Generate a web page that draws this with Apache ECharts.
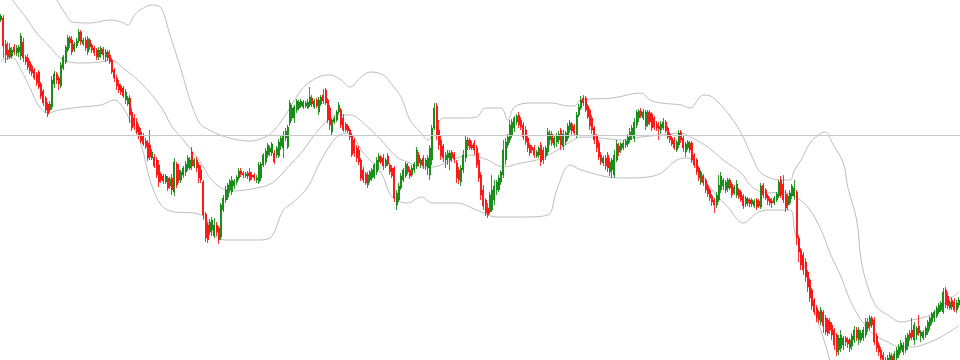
<!DOCTYPE html>
<html>
<head>
<meta charset="utf-8">
<script src="https://cdn.jsdelivr.net/npm/echarts@6/dist/echarts.min.js"></script>
<style>
html,body{margin:0;padding:0;background:#fff;}
#chart{width:960px;height:360px;}
</style>
</head>
<body>
<div id="chart"></div>
<script>
// Candles: [open, close, low, high]
const ohlc = [
[980,984,978,986],[982,954,942,985],[956,945,937,960],[950,943,940,958],[943,952,941,957],
[944,950,942,953],[953,948,945,956],[947,952,944,955],[948,953,943,955],[944,964,940,967],
[958,942,938,962],[943,938,935,945],[942,933,930,946],[938,929,926,940],[934,927,924,936],
[930,922,920,932],[926,917,914,928],[928,913,911,930],[916,904,901,918],[909,897,894,911],
[902,890,887,904],[896,886,883,898],[890,896,888,899],[893,920,890,924],[916,926,912,929],
[926,920,916,928],[922,916,910,924],[914,935,912,938],[932,943,930,945],[938,953,936,955],
[950,962,948,965],[962,957,952,964],[960,948,945,964],[950,956,948,958],[954,959,952,962],
[959,968,957,971],[968,958,955,970],[956,960,954,962],[960,952,949,963],[948,961,945,964],
[960,953,950,962],[955,950,947,957],[952,947,944,954],[950,943,940,952],[943,950,940,953],
[946,952,942,954],[951,945,940,953],[943,948,938,951],[948,942,939,950],[945,938,936,950],
[940,928,926,942],[930,922,918,932],[922,914,910,925],[916,910,907,920],[914,908,905,916],
[912,904,902,914],[900,908,896,911],[896,902,894,904],[902,885,877,905],[888,872,869,892],
[882,874,870,886],[878,868,866,882],[873,864,861,876],[868,859,857,872],[864,856,854,867],
[859,853,851,862],[857,842,839,860],[855,843,840,870],[842,848,840,851],[843,834,832,846],
[840,825,822,843],[835,818,813,840],[826,820,817,828],[824,819,816,826],[818,824,816,826],
[822,812,809,824],[814,821,811,823],[822,810,805,826],[808,838,804,842],[836,815,812,838],
[830,820,817,836],[820,828,817,830],[825,832,822,834],[828,836,824,839],[832,842,829,845],
[832,840,830,843],[848,834,830,853],[834,840,832,842],[840,832,828,843],[835,822,817,838],
[830,820,817,835],[818,785,780,820],[786,762,758,788],[775,760,757,778],[768,778,765,781],
[770,780,764,783],[764,775,762,782],[775,768,764,778],[772,760,756,774],[763,795,760,797],
[790,802,788,805],[800,810,797,814],[803,815,800,817],[810,819,807,821],[808,820,805,824],
[814,819,811,821],[818,823,815,825],[822,829,820,832],[829,826,823,832],[827,825,822,829],
[824,826,822,828],[827,824,821,829],[828,820,818,832],[825,823,820,828],[825,822,819,827],
[820,822,817,825],[818,835,816,838],[822,836,819,838],[835,845,833,847],[838,849,835,852],
[845,855,842,857],[848,852,844,854],[847,856,844,858],[847,838,836,850],[845,852,842,854],
[844,858,842,861],[854,862,850,864],[852,865,842,869],[862,869,859,872],[853,873,851,875],
[877,897,874,900],[882,892,879,895],[882,893,877,895],[890,899,887,901],[892,898,890,900],
[894,899,892,901],[893,898,891,900],[894,897,892,899],[892,898,891,901],[895,903,893,913],
[902,896,893,905],[893,899,891,901],[900,894,892,902],[888,900,885,903],[896,903,894,905],
[905,899,896,911],[910,897,895,912],[900,880,877,902],[892,875,870,895],[868,880,865,882],
[878,882,876,884],[880,888,878,890],[888,895,886,898],[890,875,872,892],[882,870,868,886],
[876,870,868,878],[874,869,867,876],[870,863,860,872],[865,845,843,867],[860,847,843,862],
[852,842,838,855],[850,838,835,854],[840,822,819,842],[830,820,817,833],[826,817,815,828],
[815,825,812,828],[820,828,817,830],[822,830,819,832],[823,835,821,837],[828,840,825,843],
[838,844,830,847],[843,838,836,845],[842,834,830,846],[834,840,832,842],[844,836,834,847],
[835,828,825,837],[832,824,822,835],[832,802,798,834],[795,807,790,810],[800,814,798,817],
[812,824,810,827],[820,830,818,832],[824,836,822,838],[834,828,826,837],[830,824,821,833],
[825,832,823,835],[830,836,827,838],[834,850,831,853],[845,837,834,848],[835,840,832,842],
[842,834,831,845],[834,840,830,842],[832,842,825,845],[825,852,820,855],[840,872,835,875],
[872,892,870,897],[894,865,860,897],[870,855,850,880],[860,844,840,865],[854,842,838,856],
[840,845,832,848],[842,847,835,850],[840,847,830,850],[848,842,838,850],[846,841,837,848],
[837,822,817,840],[830,820,816,833],[818,832,814,835],[830,845,827,850],[842,860,838,865],
[860,854,850,863],[860,852,850,862],[855,852,850,859],[857,850,845,860],[852,835,832,855],
[840,822,818,847],[825,805,800,828],[810,794,790,815],[800,787,784,802],[792,785,782,797],
[788,805,786,808],[790,810,788,825],[800,814,795,820],[810,818,805,820],[810,822,808,825],
[818,828,815,830],[825,850,822,860],[840,858,835,862],[855,863,852,866],[860,875,857,880],
[865,878,862,881],[872,882,868,884],[878,884,875,886],[885,875,872,888],[880,873,870,883],
[875,863,860,878],[870,858,855,874],[862,852,848,864],[855,847,844,857],[853,850,847,855],
[852,845,842,855],[844,848,842,850],[845,852,842,854],[855,838,834,858],[850,840,836,853],
[844,852,840,854],[848,868,845,872],[860,866,855,870],[866,857,854,869],[855,862,852,865],
[858,864,853,867],[860,866,856,869],[870,855,850,872],[854,866,850,870],[858,867,855,869],
[862,874,859,877],[870,877,867,880],[876,869,865,878],[874,867,864,876],[865,885,862,888],
[885,893,883,896],[892,900,890,904],[902,897,894,905],[902,890,888,904],[894,883,881,896],
[890,874,870,892],[882,870,866,885],[872,860,856,874],[864,852,848,866],[857,843,840,860],
[845,838,835,848],[837,842,834,844],[842,834,830,845],[845,832,828,848],[828,838,824,842],
[830,840,822,842],[825,845,822,850],[840,856,838,860],[854,848,844,857],[850,856,847,858],
[852,857,850,860],[855,859,852,861],[856,863,853,866],[860,868,857,872],[864,872,860,875],
[862,878,858,882],[875,888,872,890],[882,889,878,891],[889,884,882,892],[882,888,880,891],
[874,888,870,890],[888,876,873,890],[887,878,875,890],[886,872,869,888],[882,873,870,884],
[876,872,869,879],[874,871,860,878],[870,876,866,879],[872,878,870,882],[878,869,867,880],
[872,863,861,874],[866,860,857,868],[862,856,854,864],[860,852,850,863],[850,858,848,860],
[855,867,852,870],[868,860,857,870],[862,852,848,864],[848,856,843,858],[852,858,850,860],
[857,850,847,859],[857,840,837,859],[845,835,832,847],[840,828,825,842],[832,822,819,834],
[818,828,815,830],[824,817,814,826],[820,810,807,822],[814,806,803,816],[810,802,799,812],
[804,798,794,806],[800,795,787,802],[795,805,792,808],[800,815,798,825],[810,824,807,828],
[814,820,810,822],[810,818,807,820],[812,820,808,822],[820,812,810,822],[816,805,802,818],
[807,813,805,815],[805,816,802,820],[810,803,801,812],[808,800,798,810],[804,794,791,806],
[796,802,793,804],[801,797,794,803],[800,796,793,802],[796,800,793,802],[794,799,792,801],
[800,793,790,802],[799,794,792,801],[793,814,791,817],[815,805,802,817],[810,802,800,812],
[804,799,795,806],[801,797,794,803],[799,797,792,802],[797,802,795,804],[800,806,798,808],
[804,818,802,820],[820,805,802,824],[816,800,797,825],[806,792,788,810],[795,804,790,806],
[797,807,795,810],[804,814,801,816],[804,812,800,820],[808,762,755,810],[762,748,738,765],
[750,735,730,752],[745,730,725,748],[738,723,718,742],[728,713,708,730],[720,702,698,722],
[710,694,690,712],[700,688,685,702],[692,682,678,695],[688,680,677,690],[678,690,675,693],
[688,674,667,690],[682,668,665,685],[680,667,664,682],[678,670,666,682],[675,665,660,678],
[670,655,650,672],[665,648,644,667],[650,662,645,665],[652,665,648,670],[655,662,650,664],
[662,658,654,664],[660,656,652,663],[652,660,648,662],[654,664,650,667],[660,670,657,674],
[670,662,659,673],[660,670,655,673],[660,667,657,670],[662,670,659,673],[665,678,662,682],
[678,672,668,682],[674,682,670,685],[682,675,672,684],[680,658,655,683],[664,652,648,667],
[655,648,644,658],[650,642,638,653],[645,638,634,648],[640,636,632,643],[635,642,632,645],
[638,645,634,648],[644,640,637,647],[640,646,637,649],[642,650,640,653],[645,653,642,656],
[650,657,647,660],[648,655,645,658],[650,662,647,665],[654,665,650,667],[667,662,659,670],
[670,663,660,682],[660,675,655,678],[665,672,660,674],[674,667,664,685],[664,668,658,670],
[662,668,660,670],[665,672,662,674],[668,678,665,680],[674,682,670,684],[678,686,675,688],
[682,688,678,690],[684,692,682,694],[688,695,686,697],[690,697,688,699],[688,708,686,712],
[710,695,692,713],[704,694,691,708],[692,698,690,700],[700,693,690,703],[698,690,688,702],
[690,697,687,700],[695,700,692,703]
];

// Bollinger bands: [candle index, value]
const upperBand = [
[0,1060],[13,1035],[22,1010],[25,1000],[29,986],[32,978],[40,977],[49,980],[54,978],[57,975],
[60,985],[64,992],[68,995],[72,992],[76,965],[81,930],[85,900],[89,878],[92,872],[101,863],
[112,859],[119,863],[123,870],[128,885],[135,910],[139,918],[144,924],[148,925],[153,920],[157,913],
[162,923],[166,928],[172,925],[176,915],[180,903],[184,880],[189,867],[192,860],[196,875],[199,882],
[209,882],[214,883],[218,892],[225,892],[228,880],[231,893],[238,897],[248,897],[255,894],[258,894],
[261,900],[275,902],[288,907],[292,900],[297,897],[306,895],[310,892],[316,905],[320,903],[327,887],
[333,867],[338,843],[342,827],[351,820],[355,820],[357,830],[360,840],[364,857],[369,867],[371,868],
[374,857],[379,837],[381,813],[385,780],[387,740],[390,713],[394,693],[399,685],[405,678],[410,680],
[417,684],[421,690],[426,699],[431,708]
];
const middleBand = [
[0,1015],[5,1000],[11,983],[16,967],[22,953],[28,940],[36,937],[45,938],[49,940],[56,930],
[63,917],[72,893],[77,873],[82,860],[90,837],[94,822],[99,812],[104,809],[115,812],[122,817],
[130,835],[135,847],[144,873],[151,885],[157,885],[165,873],[171,860],[178,843],[183,838],[189,833],
[194,833],[203,840],[211,845],[219,840],[226,833],[234,837],[241,840],[248,847],[256,858],[261,863],
[270,862],[279,860],[288,863],[297,865],[306,867],[311,862],[318,853],[325,840],[333,827],[338,813],
[345,807],[351,808],[356,805],[363,793],[369,770],[373,747],[378,723],[382,700],[387,680],[392,667],
[399,658],[405,653],[410,653],[417,657],[423,663],[428,670],[431,674]
];
const lowerBand = [
[0,940],[5,942],[9,930],[13,912],[17,894],[21,887],[26,890],[36,893],[45,895],[51,900],
[56,888],[63,855],[67,820],[72,795],[78,788],[87,787],[92,782],[96,765],[101,760],[115,760],
[121,762],[127,790],[131,797],[138,813],[144,840],[151,863],[156,867],[163,847],[171,827],[176,803],
[183,797],[189,803],[194,797],[205,797],[214,790],[223,783],[234,783],[246,785],[250,810],[256,835],
[261,830],[273,823],[280,822],[291,823],[297,827],[304,840],[309,842],[313,833],[320,810],[327,793],
[334,777],[340,787],[345,790],[355,790],[357,770],[362,730],[366,690],[371,655],[375,625],[382,595],
[391,620],[405,628],[418,632],[431,638]
];
const levelLine = 865;

const categories = ohlc.map((_, i) => String(i));

const chart = echarts.init(document.getElementById('chart'), null, {renderer: 'canvas'});
const bandStyle = {color: '#bdbdbd', width: 1};
chart.setOption({
  animation: false,
  backgroundColor: '#ffffff',
  grid: {left: 0, right: 0, top: 0, bottom: 0},
  xAxis: [
    {type: 'category', data: categories, boundaryGap: true, show: false},
    {type: 'value', min: -0.5, max: ohlc.length - 0.5, show: false}
  ],
  yAxis: {type: 'value', min: 640, max: 1000, show: false, scale: true},
  series: [
    {
      type: 'line', xAxisIndex: 1, data: upperBand, showSymbol: false, smooth: 0.35,
      lineStyle: bandStyle, silent: true, z: 1
    },
    {
      type: 'line', xAxisIndex: 1, data: middleBand, showSymbol: false, smooth: 0.35,
      lineStyle: bandStyle, silent: true, z: 1
    },
    {
      type: 'line', xAxisIndex: 1, data: lowerBand, showSymbol: false, smooth: 0.35,
      lineStyle: bandStyle, silent: true, z: 1
    },
    {
      type: 'candlestick', xAxisIndex: 0, data: ohlc, barWidth: 1.5, z: 3,
      itemStyle: {
        color: '#008000', color0: '#ff0000',
        borderColor: '#008000', borderColor0: '#ff0000', borderWidth: 0.8
      },
      markLine: {
        silent: true, symbol: ['none', 'none'], label: {show: false},
        lineStyle: {color: '#c8c8c8', width: 1, type: 'solid'},
        data: [{yAxis: levelLine}]
      }
    }
  ]
});
</script>
</body>
</html>
